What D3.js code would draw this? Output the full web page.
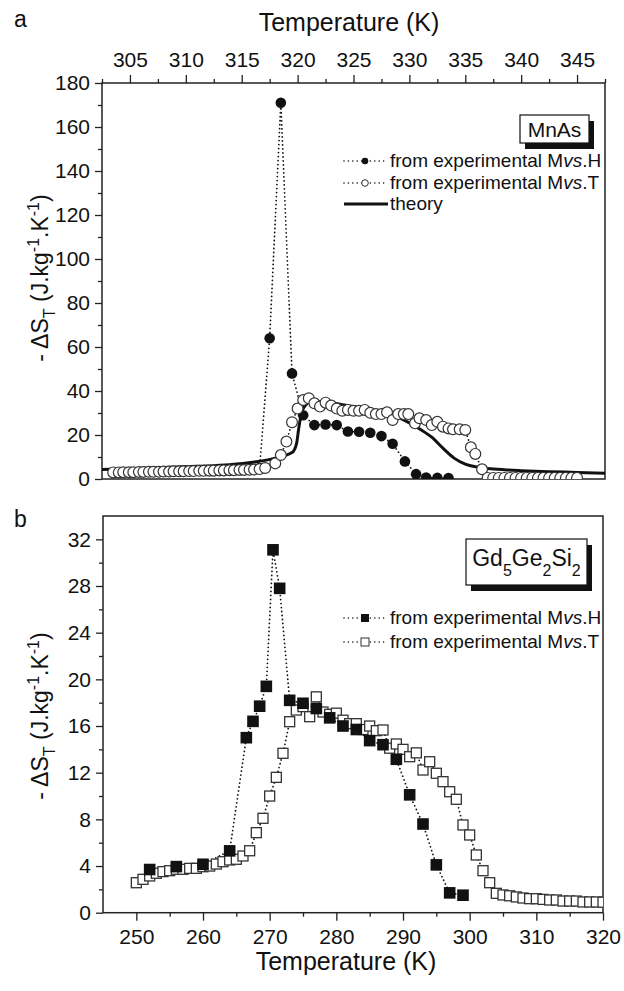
<!DOCTYPE html>
<html>
<head>
<meta charset="utf-8">
<script src="https://cdn.jsdelivr.net/npm/d3@7"></script>
<style>
  body { margin: 0; background: #fff; }
  text { font-family: "Liberation Sans", Arial, sans-serif; fill: #111; }
</style>
</head>
<body>
<svg id="chart"></svg>
<script>
// panel a: MnAs
const mnasHT = [316.6, 317.5, 318.5, 319.5, 320.5, 321.5, 322.5, 323.5, 324.5, 325.5, 326.5, 327.5, 328.5, 329.6, 330.6, 331.5, 332.5, 333.5];
const mnasHVal = [5, 64, 171, 48, 29, 24.5, 24.8, 24.5, 21.6, 21.5, 21, 19.5, 16, 8, 2.2, 0.7, 0.5, 0.4];

const mnasTT = [303.5, 304.0, 304.4, 304.9, 305.3, 305.8, 306.2, 306.7, 307.1, 307.6, 308.0, 308.5, 308.9, 309.4, 309.8,
  310.3, 310.7, 311.2, 311.6, 312.1, 312.5, 313.0, 313.4, 313.9, 314.3, 314.8, 315.2, 315.7, 316.1, 316.6, 317.1,
  318.0, 318.5, 319.0, 319.5, 320.0, 320.5, 321.0, 321.5, 322.0, 322.5, 323.0, 323.5, 324.0, 324.5, 325.0, 325.5,
  326.0, 326.5, 327.0, 327.5, 328.0, 328.5, 329.0, 329.5, 329.9, 330.5, 330.9, 331.5, 332.0, 332.5, 333.0, 333.5,
  333.9, 334.5, 335.0, 335.5, 335.9, 336.5,
  337.0, 337.5, 338.0, 338.5, 339.0, 339.5, 340.0, 340.5, 341.0, 341.5, 342.0, 342.5, 343.0, 343.5, 344.0, 344.5, 345.0];
const mnasTVal = [3.0, 3.0, 3.1, 3.1, 3.1, 3.2, 3.2, 3.3, 3.3, 3.3, 3.4, 3.4, 3.5, 3.5, 3.5,
  3.6, 3.6, 3.7, 3.7, 3.8, 3.8, 3.9, 3.9, 4.0, 4.0, 4.1, 4.1, 4.2, 4.3, 4.5, 5.0,
  7.1, 10.9, 17, 25.8, 32, 35.9, 36.7, 34.4, 32.9, 34.7, 33.4, 32, 31, 31.4, 31, 31,
  31.4, 30.1, 29.5, 29.5, 30.3, 26.8, 29.5, 29.5, 29.5, 25.3, 27.6, 26.8, 24.5, 26, 23.8, 23,
  22.6, 22.6, 22.3, 14.4, 11.4, 4.4,
  0.5, 0.5, 0.5, 0.5, 0.5, 0.5, 0.5, 0.5, 0.5, 0.5, 0.5, 0.5, 0.5, 0.5, 0.5, 0.5, 0.5];

const theoryT = [302.5, 305, 308, 311, 313.9, 316, 318, 319.5, 319.9, 320.1, 320.35, 320.7, 321.1, 322, 323, 324, 325,
  326, 327, 328, 329, 330, 331, 332, 333, 334, 335, 336, 337, 338.5, 340, 342.5, 345, 347.5];
const theoryVal = [4.3, 4.7, 5.2, 5.8, 6.5, 7.6, 9.5, 12, 16, 23, 30, 33.5, 35, 35, 34.5, 33.8, 33,
  32, 31, 30, 28, 25.5, 22.5, 19, 14, 9.5, 6.8, 5.5, 4.8, 4.2, 3.8, 3.3, 3.0, 2.6];

// panel b: Gd5Ge2Si2
const gdHT = [252, 256, 260, 264, 266.5, 267.5, 268.5, 269.5, 270.5, 271.5, 273, 275, 277, 279, 281, 283, 285, 287, 289, 291, 293, 295, 297, 299];
const gdHVal = [3.7, 3.95, 4.15, 5.3, 15.0, 16.4, 17.7, 19.4, 31.1, 27.8, 18.2, 17.95, 17.5, 16.7, 16.0, 15.7, 14.75, 14.4, 13.15, 10.1, 7.6, 4.1, 1.7, 1.5];

const gdTT = [250, 251, 252, 253, 254, 255, 256, 257, 258, 259, 260, 261, 262, 263, 264, 265, 266, 267, 268, 269,
  270, 271, 272, 273, 274, 275, 276, 277, 278, 279, 280, 281, 282, 283, 284, 285, 286, 287, 288, 289,
  290, 291, 292, 293, 294, 295, 296, 297, 298, 299, 300, 301, 302, 303, 304, 305, 306, 307, 308, 309,
  310, 311, 312, 313, 314, 315, 316, 317, 318, 319, 320];
const gdTVal = [2.57, 2.86, 3.15, 3.38, 3.52, 3.6, 3.72, 3.72, 3.8, 3.8, 3.94, 4.0, 4.17, 4.37, 4.52, 4.58, 4.86, 5.31, 6.86, 8.09,
  10.0, 11.6, 13.66, 16.37, 17.37, 17.66, 16.8, 18.5, 17.2, 17.0, 17.1, 16.5, 16.2, 16.2, 15.7, 16.0, 15.6, 15.66, 14.1, 14.46,
  14.0, 13.37, 13.7, 12.23, 12.94, 11.95, 11.23, 10.37, 9.72, 7.52, 6.66, 4.95, 3.6, 2.57, 1.66, 1.52, 1.45, 1.35, 1.26, 1.2,
  1.2, 1.14, 1.09, 1.09, 1.0, 1.0, 1.0, 0.92, 0.92, 0.92, 0.9];

// tick values
const topXTicks = [305, 310, 315, 320, 325, 330, 335, 340, 345];
const topXMinor = [302.5, 307.5, 312.5, 317.5, 322.5, 327.5, 332.5, 337.5, 342.5, 347.5];
const topYTicks = [0, 20, 40, 60, 80, 100, 120, 140, 160, 180];
const topYMinor = [10, 30, 50, 70, 90, 110, 130, 150, 170];
const botXTicks = [250, 260, 270, 280, 290, 300, 310, 320];
const botXMinor = [255, 265, 275, 285, 295, 305, 315];
const botYTicks = [0, 4, 8, 12, 16, 20, 24, 28, 32];
const botYMinor = [2, 6, 10, 14, 18, 22, 26, 30];

const legendLabels = ["from experimental M", "vs", "H", "T"];

const svg = d3.select("#chart")
    .attr("width", 624)
    .attr("height", 991);

svg.append("rect").attr("width", 624).attr("height", 991).attr("fill", "#fff");

// scales
const xA = d3.scaleLinear().domain([302.5, 347.5]).range([102, 605]);
const yA = d3.scaleLinear().domain([0, 180]).range([479, 83]);
const xB = d3.scaleLinear().domain([245, 320]).range([103, 603]);
const yB = d3.scaleLinear().domain([0, 34]).range([912.7, 516]);

const defs = svg.append("defs");

function clipFor(id, x, y) {
    defs.append("clipPath").attr("id", id)
        .append("rect")
        .attr("x", x.range()[0]).attr("y", y.range()[1])
        .attr("width", x.range()[1] - x.range()[0])
        .attr("height", y.range()[0] - y.range()[1]);
}
clipFor("clipA", xA, yA);
clipFor("clipB", xB, yB);

function styleAxis(g) {
    g.select(".domain").remove();
    g.selectAll(".tick line").attr("stroke", "#222").attr("stroke-width", 1.3);
    g.selectAll(".tick text").style("font-size", "21px").attr("fill", "#111");
}

// frame + axes for one panel
function drawFrame(x, y, xTop, xMajor, xMinor, yMajor, yMinor) {
    const g = svg.append("g");
    g.append("rect")
        .attr("x", x.range()[0]).attr("y", y.range()[1])
        .attr("width", x.range()[1] - x.range()[0])
        .attr("height", y.range()[0] - y.range()[1])
        .attr("fill", "none").attr("stroke", "#222").attr("stroke-width", 1.5);

    const xPos = xTop ? y.range()[1] : y.range()[0];
    const mk = xTop ? d3.axisTop : d3.axisBottom;

    g.append("g").attr("transform", `translate(0,${xPos})`)
        .call(mk(x).tickValues(xMinor).tickSize(4).tickFormat(""))
        .call(styleAxis);
    g.append("g").attr("transform", `translate(0,${xPos})`)
        .call(mk(x).tickValues(xMajor).tickSize(8).tickPadding(xTop ? 8 : 8).tickFormat(d3.format("d")))
        .call(styleAxis);

    g.append("g").attr("transform", `translate(${x.range()[0]},0)`)
        .call(d3.axisLeft(y).tickValues(yMinor).tickSize(4).tickFormat(""))
        .call(styleAxis);
    g.append("g").attr("transform", `translate(${x.range()[0]},0)`)
        .call(d3.axisLeft(y).tickValues(yMajor).tickSize(7).tickPadding(5).tickFormat(d3.format("d")))
        .call(styleAxis);
}

drawFrame(xA, yA, true, topXTicks, topXMinor, topYTicks, topYMinor);
drawFrame(xB, yB, false, botXTicks, botXMinor, botYTicks, botYMinor);

// dotted connecting line
function dotted(g, x, y, T, V) {
    const line = d3.line().x((d, i) => x(T[i])).y(d => y(d));
    g.append("path")
        .attr("d", line(V))
        .attr("fill", "none")
        .attr("stroke", "#111")
        .attr("stroke-width", 1.8)
        .attr("stroke-linecap", "round")
        .attr("stroke-dasharray", "0,4");
}

// ---- panel a marks
const plotA = svg.append("g").attr("clip-path", "url(#clipA)");

plotA.append("path")
    .attr("d", d3.line().curve(d3.curveMonotoneX).x((d, i) => xA(theoryT[i])).y(d => yA(d))(theoryVal))
    .attr("fill", "none").attr("stroke", "#111").attr("stroke-width", 3);

dotted(plotA, xA, yA, mnasHT, mnasHVal);
dotted(plotA, xA, yA, mnasTT, mnasTVal);

plotA.selectAll(".hcirc").data(mnasHVal).enter()
    .append("circle").attr("class", "hcirc")
    .attr("cx", (d, i) => xA(mnasHT[i])).attr("cy", d => yA(d))
    .attr("r", 5.3).attr("fill", "#111");

plotA.selectAll(".tcirc").data(mnasTVal).enter()
    .append("circle").attr("class", "tcirc")
    .attr("cx", (d, i) => xA(mnasTT[i])).attr("cy", d => yA(d))
    .attr("r", 5.4).attr("fill", "#fff").attr("stroke", "#333").attr("stroke-width", 1.2);

// ---- panel b marks
const plotB = svg.append("g").attr("clip-path", "url(#clipB)");

dotted(plotB, xB, yB, gdHT, gdHVal);
dotted(plotB, xB, yB, gdTT, gdTVal);

plotB.selectAll(".tsq").data(gdTVal).enter()
    .append("rect").attr("class", "tsq")
    .attr("x", (d, i) => xB(gdTT[i]) - 5).attr("y", d => yB(d) - 5)
    .attr("width", 10).attr("height", 10)
    .attr("fill", "#fff").attr("stroke", "#333").attr("stroke-width", 1.3);

plotB.selectAll(".hsq").data(gdHVal).enter()
    .append("rect").attr("class", "hsq")
    .attr("x", (d, i) => xB(gdHT[i]) - 5.8).attr("y", d => yB(d) - 5.8)
    .attr("width", 11.6).attr("height", 11.6)
    .attr("fill", "#111");

// ---- legends
function legendRow(y, kind, letter) {
    const g = svg.append("g");
    if (kind !== "theory") {
        g.append("line").attr("x1", 344).attr("x2", 388).attr("y1", y).attr("y2", y)
            .attr("stroke", "#111").attr("stroke-width", 1.6)
            .attr("stroke-linecap", "round").attr("stroke-dasharray", "0,4.4");
    }
    if (kind === "dot") g.append("circle").attr("cx", 365).attr("cy", y).attr("r", 3.3).attr("fill", "#111");
    if (kind === "odot") g.append("circle").attr("cx", 365).attr("cy", y).attr("r", 3.3).attr("fill", "#fff").attr("stroke", "#333").attr("stroke-width", 1);
    if (kind === "sq") g.append("rect").attr("x", 361).attr("y", y - 4).attr("width", 8).attr("height", 8).attr("fill", "#111");
    if (kind === "osq") g.append("rect").attr("x", 361).attr("y", y - 4).attr("width", 8).attr("height", 8).attr("fill", "#fff").attr("stroke", "#333").attr("stroke-width", 1);
    if (kind === "theory") {
        g.append("line").attr("x1", 344).attr("x2", 388).attr("y1", y).attr("y2", y)
            .attr("stroke", "#111").attr("stroke-width", 3);
    }
    const t = g.append("text").attr("x", 390).attr("y", y + 6).style("font-size", "19px");
    if (kind === "theory") {
        t.text("theory");
    } else {
        t.append("tspan").text(legendLabels[0]);
        t.append("tspan").style("font-style", "italic").text(legendLabels[1]);
        t.append("tspan").text("." + letter);
    }
}

legendRow(161, "dot", legendLabels[2]);
legendRow(183, "odot", legendLabels[3]);
legendRow(204, "theory");
legendRow(618, "sq", legendLabels[2]);
legendRow(642, "osq", legendLabels[3]);

// sample name boxes with a drop shadow
function nameBox(x, y, w, h, build) {
    svg.append("rect").attr("x", x + 5).attr("y", y + 6).attr("width", w).attr("height", h).attr("fill", "#111");
    svg.append("rect").attr("x", x).attr("y", y).attr("width", w).attr("height", h)
        .attr("fill", "#fff").attr("stroke", "#111").attr("stroke-width", 1.2);
    build(svg.append("text").attr("x", x + w / 2).attr("text-anchor", "middle").style("font-size", "21px"));
}

nameBox(520, 115, 69, 28, t => t.attr("y", 137).text("MnAs"));
nameBox(466, 539, 121, 46, t => {
    t.attr("y", 566).style("font-size", "23px");
    [["Gd", 0], ["5", 1], ["Ge", 0], ["2", 1], ["Si", 0], ["2", 1]].forEach(([s, sub], i, arr) => {
        const prevSub = i > 0 ? arr[i - 1][1] : 0;
        const ts = t.append("tspan").attr("dy", sub ? 10 : (prevSub ? -10 : 0)).text(s);
        if (sub) ts.style("font-size", "16px");
    });
});

// axis titles and panel letters
svg.append("text").attr("x", 349).attr("y", 31).attr("text-anchor", "middle").style("font-size", "25px").text("Temperature (K)");
svg.append("text").attr("x", 346).attr("y", 970).attr("text-anchor", "middle").style("font-size", "25px").text("Temperature (K)");
svg.append("text").attr("x", 14).attr("y", 27).style("font-size", "23px").text("a");
svg.append("text").attr("x", 14).attr("y", 527).style("font-size", "23px").text("b");

function yTitle(cx, cy) {
    const t = svg.append("text")
        .attr("transform", `translate(${cx},${cy}) rotate(-90)`)
        .attr("text-anchor", "middle")
        .style("font-size", "23px");
    t.append("tspan").text("- \u0394S");
    t.append("tspan").attr("dy", 7).style("font-size", "16px").text("T");
    t.append("tspan").attr("dy", -7).text(" (J.kg");
    t.append("tspan").attr("dy", -9).style("font-size", "16px").text("-1");
    t.append("tspan").attr("dy", 9).text(".K");
    t.append("tspan").attr("dy", -9).style("font-size", "16px").text("-1");
    t.append("tspan").attr("dy", 9).text(")");
}
yTitle(48, 278);
yTitle(48, 716);
</script>
</body>
</html>
